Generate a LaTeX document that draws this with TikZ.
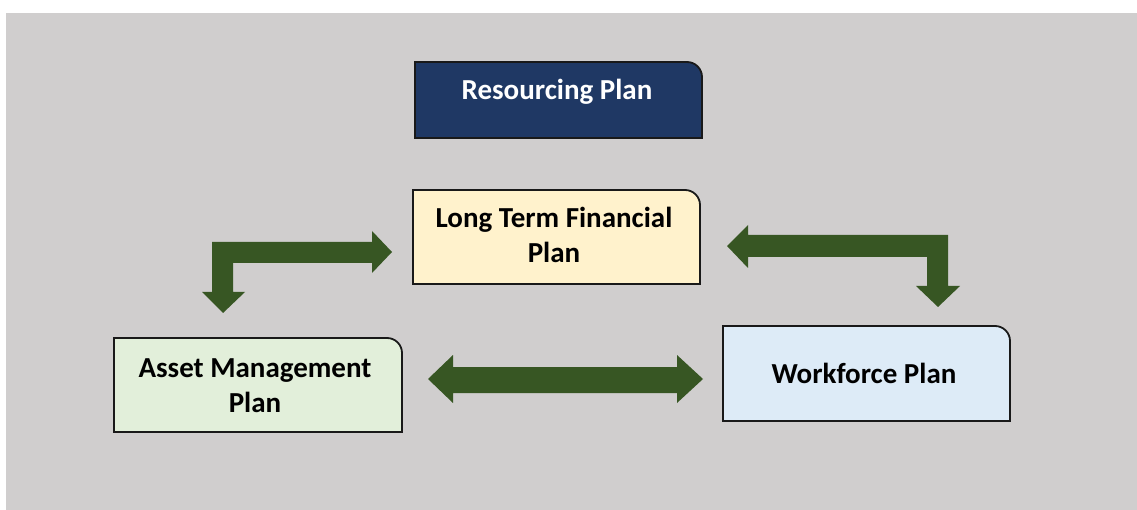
\documentclass[tikz,border=0pt]{standalone}
\usepackage{fontspec}
\setmainfont{Carlito}
\definecolor{bggray}{HTML}{D0CECE}
\definecolor{navy}{HTML}{1F3864}
\definecolor{ltyellow}{HTML}{FFF2CC}
\definecolor{ltgreen}{HTML}{E2EFDA}
\definecolor{ltblue}{HTML}{DDEBF7}
\definecolor{arrowgreen}{HTML}{375623}
\begin{document}
\begin{tikzpicture}[x=1pt,y=-1pt,
  plbox/.style={draw=black!90,line width=1.8pt},
  lbl/.style={font=\fontsize{29}{35}\selectfont\bfseries,align=center,inner sep=0pt},
  blockarrow/.style={fill=arrowgreen,draw=none}]
\useasboundingbox (0,0) rectangle (1137,510);
\fill[white] (0,0) rectangle (1137,510);
\fill[bggray] (6,13) rectangle (1137,510);
% boxes: rounded top-right corner
\newcommand{\plshape}[5]{% fill, left, top, right, bottom
  \draw[plbox,fill=#1] (#2,#5) -- (#2,#3) -- ({#4-15},#3) arc[start angle=90,end angle=0,radius=15pt] -- (#4,#5) -- cycle;}
\plshape{navy}{415}{62}{702}{138}
\plshape{ltyellow}{413}{190}{700}{284}
\plshape{ltgreen}{114}{338}{402}{432}
\plshape{ltblue}{723}{326}{1010}{421}
% texts (base anchor = baseline of last line)
\node[lbl,text=white,anchor=base] (res) at (557,100) {Resourcing Plan};
\node[lbl,anchor=base] (ltfp) at (554,263) {Long Term Financial\\Plan};
\node[lbl,anchor=base] (amp) at (255,412) {Asset Management\\Plan};
\node[lbl,anchor=base] (wfp) at (864,383) {Workforce Plan};
% block arrows
\fill[blockarrow] (212,292) -- (212,242) -- (372,242) -- (372,231) -- (392,252) -- (372,273) -- (372,263) -- (233,263) -- (233,292) -- (245,292) -- (223,313) -- (202,292) -- cycle;
\fill[blockarrow] (748,235) -- (948,235) -- (948,286) -- (960,286) -- (938,307) -- (916,286) -- (927,286) -- (927,257) -- (748,257) -- (748,268) -- (727,246) -- (748,225) -- cycle;
\fill[blockarrow] (453,367) -- (677,367) -- (677,355) -- (703,379) -- (677,403) -- (677,393) -- (453,393) -- (453,403) -- (428,379) -- (453,355) -- cycle;
\end{tikzpicture}
\end{document}
